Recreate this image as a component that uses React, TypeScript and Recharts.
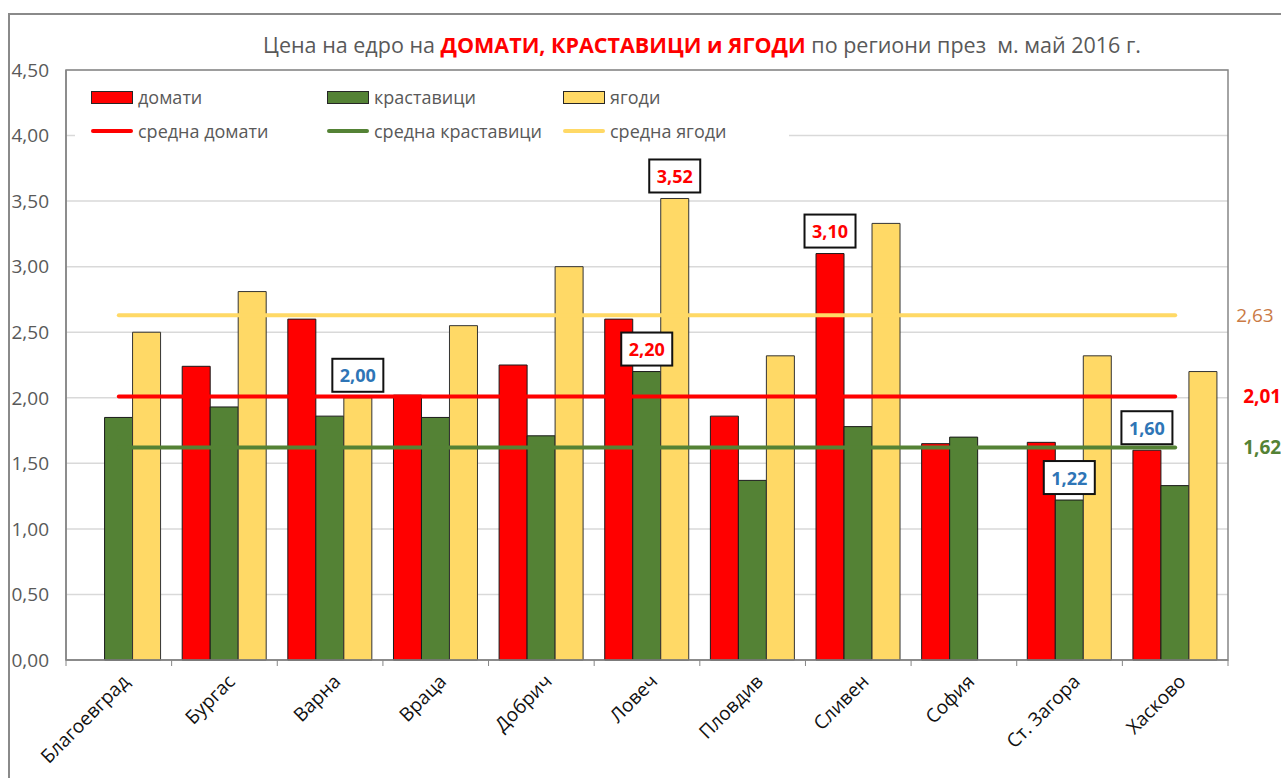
import React from "react";
import {
  BarChart,
  Bar,
  XAxis,
  YAxis,
  CartesianGrid,
  Legend,
  ReferenceLine,
  ReferenceArea,
  LabelList,
} from "recharts";

// данни, отчетени от графиката
const categories = [
  "Благоевград",
  "Бургас",
  "Варна",
  "Враца",
  "Добрич",
  "Ловеч",
  "Пловдив",
  "Сливен",
  "София",
  "Ст. Загора",
  "Хасково",
];
const tomatoes = [null, 2.24, 2.6, 2.02, 2.25, 2.6, 1.86, 3.1, 1.65, 1.66, 1.6];
const cucumbers = [1.85, 1.93, 1.86, 1.85, 1.71, 2.2, 1.37, 1.78, 1.7, 1.22, 1.33];
const strawberries = [2.5, 2.81, 2.0, 2.55, 3.0, 3.52, 2.32, 3.33, null, 2.32, 2.2];

const avgTomatoes = 2.01;
const avgCucumbers = 1.62;
const avgStrawberries = 2.63;

const yTicks = [0, 0.5, 1, 1.5, 2, 2.5, 3, 3.5, 4, 4.5];

const RED = "#FF0000";
const GREEN = "#548235";
const YELLOW = "#FFD966";
const BLUE = "#2E75B6";
const ORANGE = "#CA7A45";
const GRAY_TEXT = "#595959";
const FONT = "'Open Sans', 'Noto Sans', sans-serif";

// кои стойности са изведени в рамка
const callouts = [
  { series: "strawberries", category: "Варна", color: BLUE },
  { series: "cucumbers", category: "Ловеч", color: RED },
  { series: "strawberries", category: "Ловеч", color: RED },
  { series: "tomatoes", category: "Сливен", color: RED },
  { series: "cucumbers", category: "Ст. Загора", color: BLUE },
  { series: "tomatoes", category: "Хасково", color: BLUE },
];

const legendItems = [
  { label: "домати", color: RED, kind: "rect" },
  { label: "краставици", color: GREEN, kind: "rect" },
  { label: "ягоди", color: YELLOW, kind: "rect" },
  { label: "средна домати", color: RED, kind: "line" },
  { label: "средна краставици", color: GREEN, kind: "line" },
  { label: "средна ягоди", color: YELLOW, kind: "line" },
];

const data = categories.map((name, i) => ({
  name,
  tomatoes: tomatoes[i],
  cucumbers: cucumbers[i],
  strawberries: strawberries[i],
}));

const W = 1281;
const H = 778;
const MARGIN = { top: 70, right: 53, bottom: 18, left: 10 };
const Y_WIDTH = 56;
const X_HEIGHT = 100;
const plotWidth = W - MARGIN.left - MARGIN.right - Y_WIDTH;
const halfBand = plotWidth / categories.length / 2;

const fmt = (v: number) => v.toFixed(2).replace(".", ",");

// стойност за етикет: "цвят|число" само за изведените стойности
const calloutValue = (series: string) => (entry: any) => {
  const c = callouts.find((o) => o.series === series && o.category === entry.name);
  return c && entry[series] != null ? `${c.color}|${entry[series]}` : null;
};

function Callout(props: any) {
  const { x, y, width, value } = props;
  if (!value || x == null) return null;
  const [color, num] = String(value).split("|");
  const cx = Number(x) + Number(width) / 2;
  const bottom = Number(y) - 6;
  const bw = 51;
  const bh = 33;
  return (
    <g>
      <rect x={cx - bw / 2} y={bottom - bh} width={bw} height={bh} fill="#fff" stroke="#111" strokeWidth={2} />
      <text
        x={cx}
        y={bottom - bh / 2}
        textAnchor="middle"
        dominantBaseline="central"
        fill={color}
        fontSize={18}
        fontWeight={700}
      >
        {fmt(Number(num))}
      </text>
    </g>
  );
}

function CategoryTick(props: any) {
  const { x, y, payload, index, visibleTicksCount } = props;
  const axisY = y - 8;
  const last = index === visibleTicksCount - 1;
  const ax = x + 7;
  const ay = y + 10;
  return (
    <g>
      <line x1={x - halfBand} x2={x - halfBand} y1={axisY} y2={axisY + 6} stroke="#868686" />
      {last && <line x1={x + halfBand} x2={x + halfBand} y1={axisY} y2={axisY + 6} stroke="#868686" />}
      <text
        x={ax}
        y={ay}
        dy="0.35em"
        textAnchor="end"
        transform={`rotate(-45, ${ax}, ${ay})`}
        fill="#111"
        fontSize={19}
      >
        {payload.value}
      </text>
    </g>
  );
}

// подпис на средната стойност вдясно от полето на графиката
const avgLabel = (value: number, color: string, bold: boolean) => (props: any) => {
  const vb = props.viewBox || {};
  const x = Number(vb.x) + Number(vb.width || 0) + (bold ? 68 : 61);
  return (
    <text x={x} y={vb.y} dy="0.35em" textAnchor="start" fill={color} fontSize={19} fontWeight={bold ? 700 : 400}>
      {fmt(value)}
    </text>
  );
};

function ChartLegend() {
  return (
    <div
      style={{
        background: "#fff",
        width: 714,
        height: 68,
        display: "grid",
        gridTemplateColumns: "236px 236px 242px",
        gridTemplateRows: "34px 34px",
        paddingLeft: 16,
        boxSizing: "border-box",
        fontFamily: FONT,
        fontSize: 18,
        color: GRAY_TEXT,
      }}
    >
      {legendItems.map((it) => (
        <div key={it.label} style={{ display: "flex", alignItems: "center", whiteSpace: "nowrap" }}>
          {it.kind === "rect" ? (
            <span
              style={{
                display: "inline-block",
                width: 40,
                height: 11,
                background: it.color,
                border: "1px solid #262626",
                marginRight: 5,
              }}
            />
          ) : (
            <span
              style={{
                display: "inline-block",
                width: 42,
                height: 4,
                borderRadius: 2,
                background: it.color,
                marginRight: 5,
              }}
            />
          )}
          {it.label}
        </div>
      ))}
    </div>
  );
}

function avgLine(value: number, color: string, labelColor: string, bold: boolean) {
  return (
    <ReferenceLine
      segment={[
        { x: categories[0], y: value },
        { x: categories[categories.length - 1], y: value },
      ]}
      stroke={color}
      strokeWidth={4}
      strokeLinecap="round"
      label={avgLabel(value, labelColor, bold)}
    />
  );
}

export default function App() {
  return (
    <div style={{ position: "relative", width: W, height: H, overflow: "hidden", fontFamily: FONT }}>
      <style>{"body{margin:0;overflow:hidden}"}</style>
      <div
        style={{
          position: "absolute",
          left: 8,
          top: 13,
          width: 1400,
          height: 900,
          border: "2px solid #8a8a8a",
        }}
      />
      <div
        style={{
          position: "absolute",
          left: 0,
          width: 1404,
          top: 29,
          textAlign: "center",
          fontSize: 21.5,
          color: GRAY_TEXT,
          whiteSpace: "pre",
          lineHeight: "32px",
        }}
      >
        {"Цена на едро на "}
        <span style={{ color: RED, fontWeight: 700 }}>ДОМАТИ, КРАСТАВИЦИ и ЯГОДИ</span>
        {" по региони през  м. май 2016 г."}
      </div>
      <div style={{ position: "absolute", left: 0, top: 0 }}>
        <BarChart
          width={W}
          height={H}
          data={data}
          margin={MARGIN}
          barCategoryGap="10%"
          barGap={0}
          style={{ fontFamily: FONT, overflow: "visible" }}
        >
          <CartesianGrid vertical={false} stroke="#d9d9d9" strokeWidth={1.5} />
          <XAxis
            dataKey="name"
            interval={0}
            height={X_HEIGHT}
            axisLine={{ stroke: "#868686", strokeWidth: 1.5 }}
            tickLine={false}
            tick={<CategoryTick />}
          />
          <YAxis
            domain={[0, 4.5]}
            ticks={yTicks}
            width={Y_WIDTH}
            tickFormatter={fmt}
            axisLine={{ stroke: "#868686", strokeWidth: 1.5 }}
            tickLine={false}
            tickMargin={11}
            tick={{ fill: GRAY_TEXT, fontSize: 19 }}
          />
          <ReferenceArea y1={0} y2={4.5} fill="none" stroke="#868686" strokeWidth={1.5} />
          <Legend
            layout="horizontal"
            verticalAlign="middle"
            align="center"
            wrapperStyle={{ left: 75, top: 80, width: 714 }}
            content={<ChartLegend />}
          />
          <Bar dataKey="tomatoes" fill={RED} stroke="#1a1a1a" strokeWidth={1} isAnimationActive={false}>
            <LabelList dataKey={calloutValue("tomatoes")} content={<Callout />} />
          </Bar>
          <Bar dataKey="cucumbers" fill={GREEN} stroke="#1a1a1a" strokeWidth={1} isAnimationActive={false}>
            <LabelList dataKey={calloutValue("cucumbers")} content={<Callout />} />
          </Bar>
          <Bar dataKey="strawberries" fill={YELLOW} stroke="#333" strokeWidth={1} isAnimationActive={false}>
            <LabelList dataKey={calloutValue("strawberries")} content={<Callout />} />
          </Bar>
          {avgLine(avgStrawberries, YELLOW, ORANGE, false)}
          {avgLine(avgTomatoes, RED, RED, true)}
          {avgLine(avgCucumbers, GREEN, GREEN, true)}
        </BarChart>
      </div>
    </div>
  );
}
